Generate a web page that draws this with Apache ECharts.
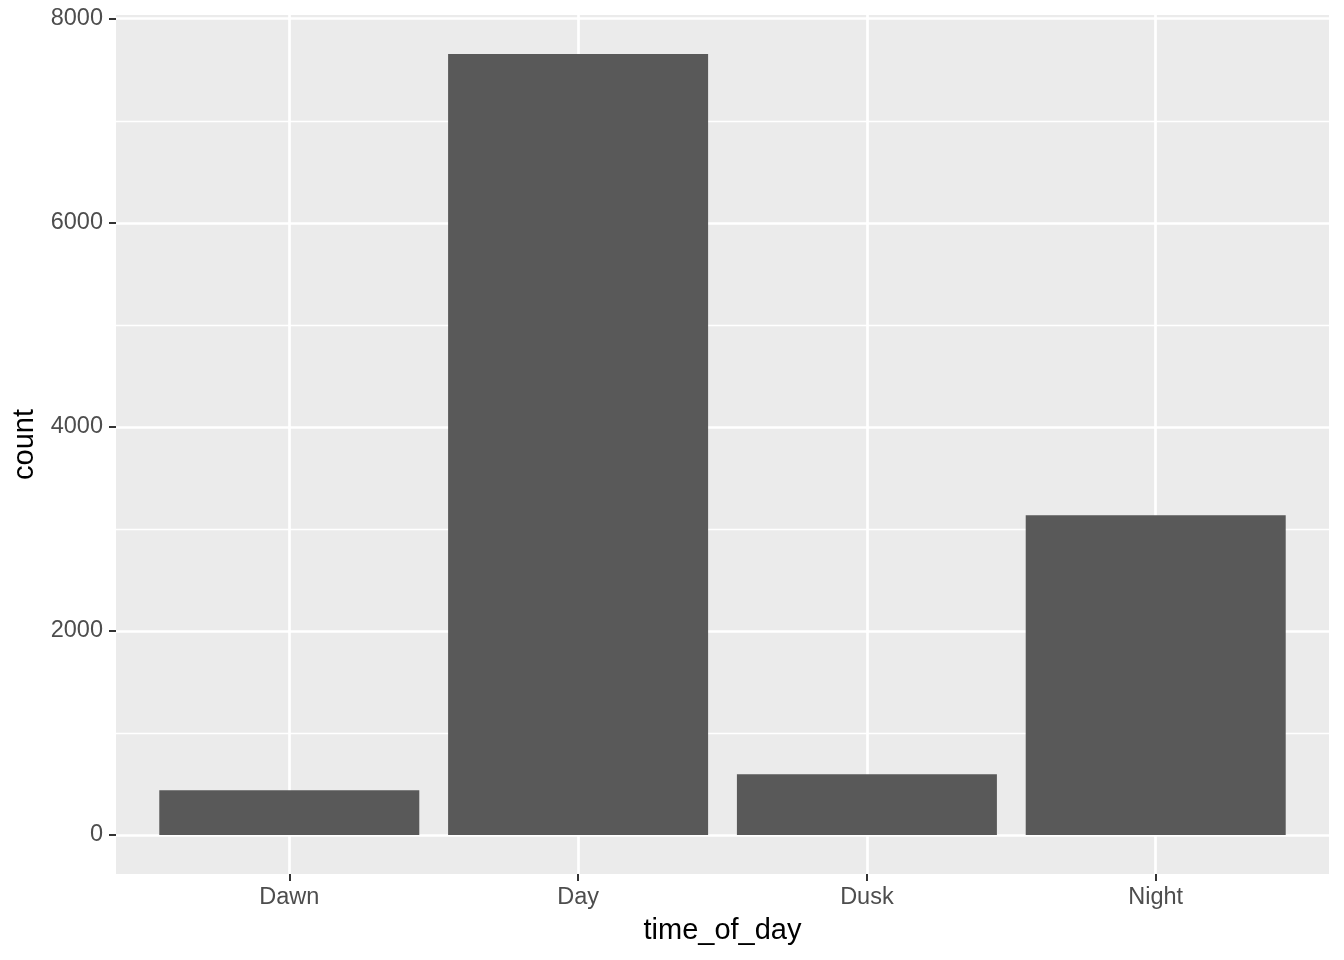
<!DOCTYPE html>
<html>
<head>
<meta charset="utf-8">
<script src="https://cdn.jsdelivr.net/npm/echarts@6/dist/echarts.min.js"></script>
<style>
html,body{margin:0;padding:0;background:#fff;}
#chart{width:1344px;height:960px;}
</style>
</head>
<body>
<div id="chart"></div>
<script>
// Data
const categories = ['Dawn', 'Day', 'Dusk', 'Night'];
const counts = [438, 7654, 595, 3134];
const yMajorTicks = [0, 2000, 4000, 6000, 8000];
const yMinorTicks = [1000, 3000, 5000, 7000];

const positions = categories.map((c, i) => i + 1);
const maxCount = Math.max.apply(null, counts);
const yMin = -0.05 * maxCount;
const yMax = maxCount * 1.05;

const font = '"Liberation Sans", Arial, Helvetica, sans-serif';

const chart = echarts.init(document.getElementById('chart'), null, {renderer: 'canvas'});
chart.setOption({
  animation: false,
  backgroundColor: '#ffffff',
  grid: {
    left: 116, right: 15, top: 15, bottom: 86,
    show: true, backgroundColor: '#EBEBEB', borderWidth: 0,
    containLabel: false
  },
  xAxis: {
    type: 'value',
    min: 0.4, max: categories.length + 0.6,
    name: 'time_of_day',
    nameLocation: 'middle',
    nameGap: 42,
    nameTextStyle: {fontFamily: font, fontSize: 29, color: '#000000'},
    axisLine: {show: false, onZero: false},
    axisTick: {show: true, length: 7, lineStyle: {color: '#333333', width: 2}, customValues: positions},
    axisLabel: {
      show: true, margin: 12, fontFamily: font, fontSize: 23.5, color: '#4D4D4D',
      customValues: positions,
      formatter: v => categories[Math.round(v) - 1] || ''
    },
    splitLine: {show: true, lineStyle: {color: '#FFFFFF', width: 2.7}}
  },
  yAxis: [
    {
      type: 'value',
      min: yMin, max: yMax,
      name: 'count',
      nameLocation: 'middle',
      nameGap: 76,
      nameRotate: 90,
      nameTextStyle: {fontFamily: font, fontSize: 29, color: '#000000'},
      axisLine: {show: false, onZero: false},
      axisTick: {show: true, length: 7, lineStyle: {color: '#333333', width: 2}, customValues: yMajorTicks},
      axisLabel: {
        show: true, margin: 13, fontFamily: font, fontSize: 23.5, color: '#4D4D4D',
        padding: [3, 0, 0, 0],
        customValues: yMajorTicks,
        formatter: v => String(v)
      },
      splitLine: {show: true, lineStyle: {color: '#FFFFFF', width: 2.7}}
    },
    {
      type: 'value',
      min: yMin, max: yMax,
      position: 'left',
      axisLine: {show: false, onZero: false},
      axisTick: {show: false, customValues: yMinorTicks},
      axisLabel: {show: false},
      splitLine: {show: true, lineStyle: {color: '#FFFFFF', width: 1.4}}
    }
  ],
  series: [{
    type: 'bar',
    yAxisIndex: 0,
    data: counts.map((v, i) => [positions[i], v]),
    barWidth: 260,
    itemStyle: {color: '#595959'},
    z: 3
  }]
});
</script>
</body>
</html>
